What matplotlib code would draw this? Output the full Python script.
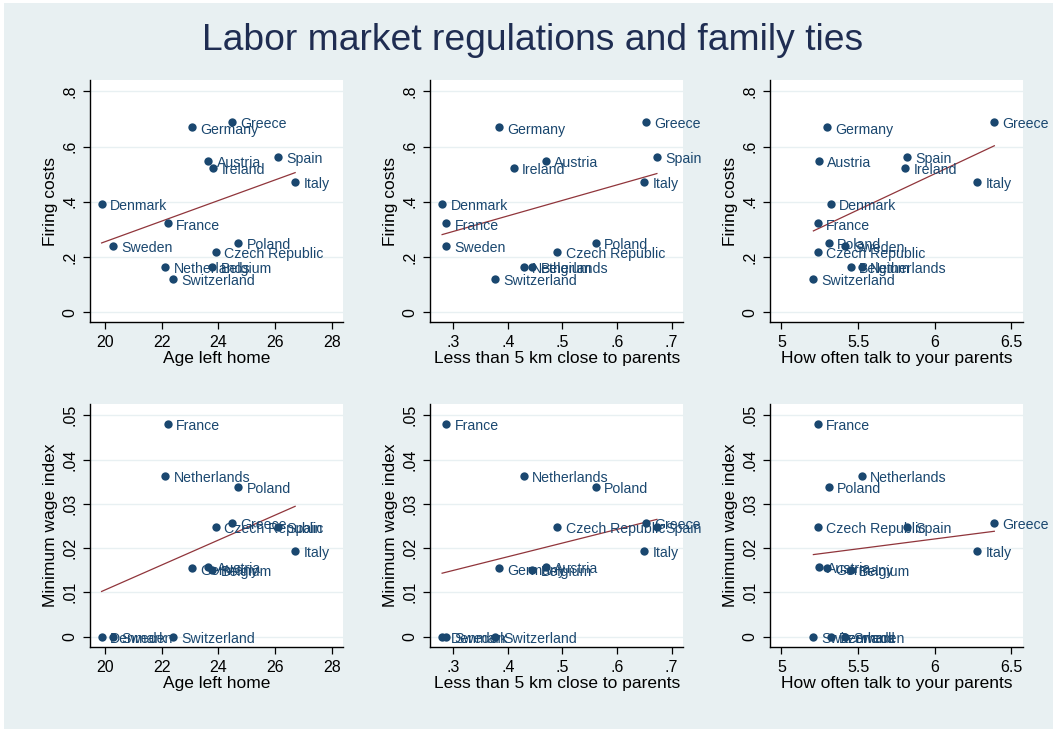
import numpy as np
import matplotlib
matplotlib.use("Agg")
import matplotlib.pyplot as plt
from matplotlib.patches import Rectangle

plt.rcParams['font.family'] = ['Liberation Sans', 'DejaVu Sans']

countries = ["Austria", "Belgium", "Czech Republic", "Denmark", "France", "Germany",
             "Greece", "Ireland", "Italy", "Netherlands", "Poland", "Spain",
             "Sweden", "Switzerland"]
age_left_home = [23.64, 23.78, 23.92, 19.88, 22.21, 23.06, 24.49, 23.82, 26.71,
                 22.12, 24.71, 26.09, 20.27, 22.39]
near_parents = [0.470, 0.445, 0.4905, 0.2795, 0.287, 0.384, 0.653, 0.411, 0.650,
                0.429, 0.561, 0.673, 0.287, 0.3755]
talk_parents = [5.243, 5.452, 5.239, 5.324, 5.239, 5.296, 6.389, 5.807, 6.276,
                5.526, 5.309, 5.820, 5.418, 5.209]
firing_costs = [0.549, 0.162, 0.218, 0.392, 0.321, 0.669, 0.689, 0.523, 0.470,
                0.162, 0.250, 0.561, 0.240, 0.120]
min_wage = [0.0157, 0.0150, 0.0248, 0.0, 0.0480, 0.0154, 0.0256, np.nan, 0.0193,
            0.0364, 0.0339, 0.0248, 0.0, 0.0]

x_titles = ["Age left home", "Less than 5 km close to parents", "How often talk to your parents"]
y_titles = ["Firing costs", "Minimum wage index"]
x_ticks = [[20, 22, 24, 26, 28], [0.3, 0.4, 0.5, 0.6, 0.7], [5, 5.5, 6, 6.5]]
x_ticklabels = [["20", "22", "24", "26", "28"], [".3", ".4", ".5", ".6", ".7"],
                ["5", "5.5", "6", "6.5"]]
y_ticks = [[0, 0.2, 0.4, 0.6, 0.8], [0, 0.01, 0.02, 0.03, 0.04, 0.05]]
y_ticklabels = [["0", ".2", ".4", ".6", ".8"], ["0", ".01", ".02", ".03", ".04", ".05"]]
x_lims = [(19.47, 28.41), (0.2573, 0.7214), (4.926, 6.578)]
y_lims = [(-0.036, 0.841), (-0.00235, 0.05256)]

W, H = 1053, 730
fig = plt.figure(figsize=(W / 100, H / 100), dpi=100)
fig.patch.set_facecolor('white')
BG = '#e8f0f2'
fig.add_artist(Rectangle((4 / W, 1 / H), 1 - 4 / W, (H - 4) / H, transform=fig.transFigure,
                         facecolor=BG, edgecolor='none', zorder=0))

NAVY = '#1a476f'
FIT = '#90353b'
GRID = '#e8f0f2'

fig.text(533 / W, 1 - 41 / H, "Labor market regulations and family ties", ha='center',
         va='center', fontsize=26.8, color='#1f2d52')

lefts = [90, 430, 770]
tops = [80, 404]
bottoms = [322, 647]
xs_all = [age_left_home, near_parents, talk_parents]
ys_all = [firing_costs, min_wage]

for r in range(2):
    for c in range(3):
        l = lefts[c]
        ax = fig.add_axes([l / W, 1 - bottoms[r] / H, 253.3 / W, (bottoms[r] - tops[r]) / H])
        ax.set_facecolor('white')
        x = np.array(xs_all[c], dtype=float)
        y = np.array(ys_all[r], dtype=float)
        m = ~np.isnan(y)
        xv, yv = x[m], y[m]
        names = [n for n, k in zip(countries, m) if k]
        ax.scatter(xv, yv, s=36, color=NAVY, zorder=3, linewidths=0)
        for xi, yi, n in zip(xv, yv, names):
            ax.annotate(n, (xi, yi), xytext=(6, -1.5), textcoords='offset points',
                        ha='left', va='center', fontsize=10.2, color=NAVY, zorder=4,
                        annotation_clip=False)
        b, a = np.polyfit(xv, yv, 1)
        xx = np.array([xv.min(), xv.max()])
        ax.plot(xx, a + b * xx, color=FIT, lw=0.9, zorder=2)
        ax.set_xlim(*x_lims[c])
        ax.set_ylim(*y_lims[r])
        ax.set_xticks(x_ticks[c])
        ax.set_xticklabels(x_ticklabels[c])
        ax.set_yticks(y_ticks[r])
        ax.set_yticklabels(y_ticklabels[r], rotation=90, va='center')
        ax.grid(axis='y', color=GRID, lw=1.0, zorder=0)
        ax.set_axisbelow(True)
        for s in ['top', 'right']:
            ax.spines[s].set_visible(False)
        for s in ['left', 'bottom']:
            ax.spines[s].set_linewidth(1.0)
            ax.spines[s].set_color('black')
        ax.tick_params(direction='out', length=5, width=0.9, labelsize=11.5, pad=4,
                       colors='black')
        ax.set_xlabel(x_titles[c], fontsize=12.5, labelpad=1)
        ax.set_ylabel(y_titles[r], fontsize=12.5, labelpad=3)

fig.savefig("out.png", dpi=100, facecolor=fig.get_facecolor())
